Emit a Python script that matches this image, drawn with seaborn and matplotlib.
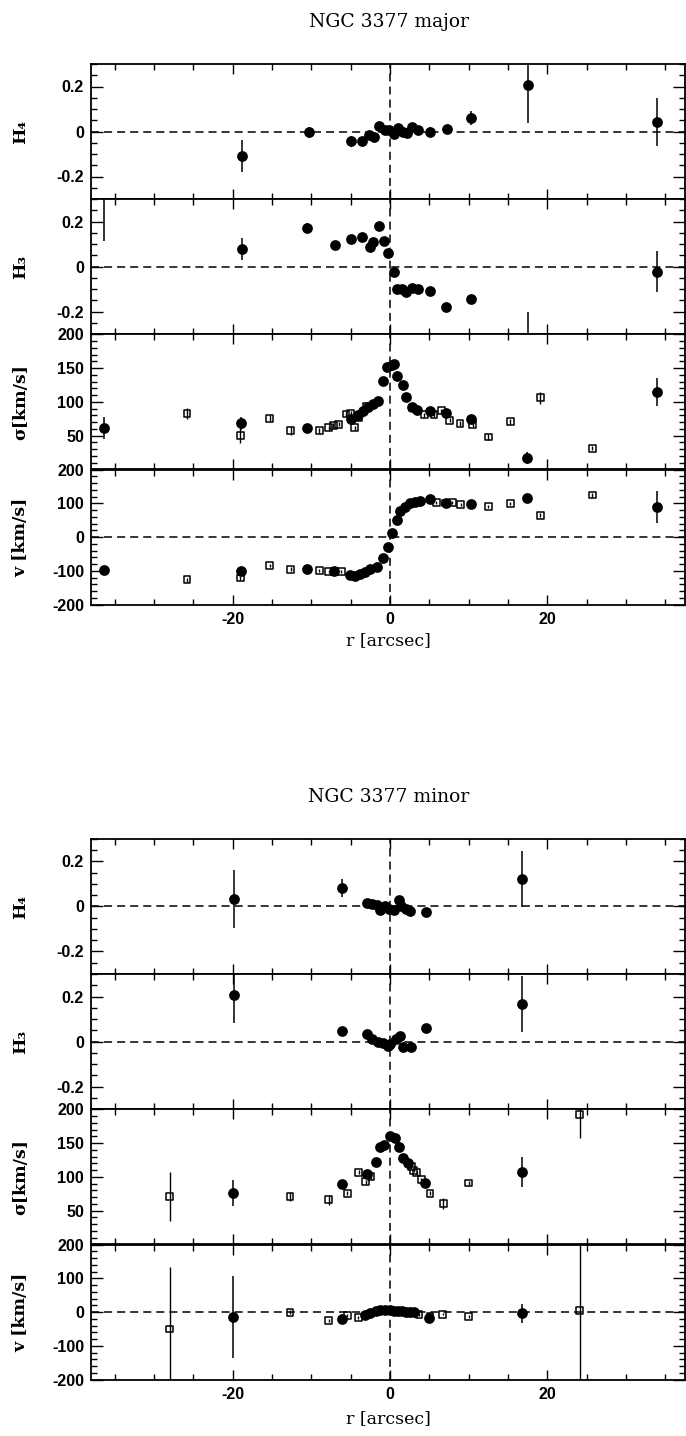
import numpy as np
import pandas as pd
import seaborn as sns
import matplotlib.pyplot as plt
from matplotlib.ticker import MultipleLocator, FuncFormatter

sns.set_style("ticks")
plt.rcParams['font.family'] = ['DejaVu Serif']
plt.rcParams['axes.unicode_minus'] = False
plt.rcParams['lines.scale_dashes'] = False
for key in ['text.color', 'axes.labelcolor', 'axes.edgecolor', 'xtick.color', 'ytick.color']:
    plt.rcParams[key] = 'black'

# ---------------- NGC 3377 major axis ----------------
maj_h4_r = [-18.8, -10.3, -4.97, -3.5, -2.7, -2.0, -1.35, -0.63, -0.13, 0.5, 1.05, 1.7, 2.2, 2.8, 3.6, 5.15, 7.2, 10.3, 17.5, 34.0]
maj_h4 = [-0.108, -0.004, -0.044, -0.044, -0.015, -0.025, 0.025, 0.008, 0.005, -0.01, 0.015, 0.0, -0.005, 0.022, 0.008, 0.0, 0.012, 0.06, 0.207, 0.044]
maj_h4_err = [0.072, 0.026, 0.025, 0.015, 0.012, 0.012, 0.012, 0.012, 0.012, 0.012, 0.012, 0.012, 0.012, 0.012, 0.015, 0.02, 0.015, 0.03, 0.17, 0.107]

maj_h3_r = [-36.4, -18.8, -10.5, -7.05, -4.97, -3.5, -2.6, -2.1, -1.43, -0.76, -0.2, 0.47, 0.85, 1.48, 2.1, 2.75, 3.6, 5.15, 7.1, 10.3, 17.5, 34.0]
maj_h3 = [0.36, 0.079, 0.173, 0.096, 0.123, 0.133, 0.089, 0.111, 0.182, 0.114, 0.059, -0.024, -0.098, -0.098, -0.114, -0.096, -0.1, -0.107, -0.18, -0.145, -0.40, -0.022]
maj_h3_err = [0.245, 0.048, 0.02, 0.012, 0.012, 0.012, 0.012, 0.012, 0.012, 0.012, 0.012, 0.012, 0.012, 0.012, 0.012, 0.012, 0.012, 0.012, 0.012, 0.015, 0.20, 0.09]

maj_sig_r = [-36.4, -18.9, -10.5, -5.0, -4.0, -3.4, -2.75, -2.1, -1.5, -0.9, -0.4, 0.2, 0.5, 0.9, 1.6, 2.1, 2.75, 3.4, 5.1, 7.1, 10.3, 17.4, 33.9]
maj_sig = [61, 68, 61, 75, 80, 87, 92, 97, 102, 131, 151, 154, 156, 139, 125, 107, 93, 88, 86, 83, 75, 17, 115]
maj_sig_err = [16, 10, 4, 4, 3, 3, 3, 3, 3, 3, 3, 3, 3, 3, 3, 3, 3, 3, 3, 3, 4, 9, 21]

maj_sig_sq_r = [-25.8, -19.0, -15.3, -12.6, -9.0, -7.8, -7.2, -6.5, -5.6, -5.0, -4.5, -4.0, -3.0, 2.9, 4.35, 5.6, 6.5, 7.6, 8.9, 10.5, 12.5, 15.3, 19.1, 25.7]
maj_sig_sq = [83, 50, 76, 58, 58, 62, 65, 67, 82, 83, 62, 77, 93, 91, 81, 81, 87, 73, 68, 66, 48, 71, 106, 31]
maj_sig_sq_err = [8, 11, 4, 7, 4, 3, 3, 3, 3, 3, 3, 3, 3, 3, 3, 3, 3, 3, 3, 3, 4, 4, 9, 3]

maj_v_r = [-36.4, -18.9, -10.5, -7.1, -5.06, -4.4, -3.8, -3.2, -2.5, -1.7, -0.9, -0.3, 0.3, 0.85, 1.27, 1.9, 2.5, 3.2, 3.8, 5.06, 7.1, 10.3, 17.4, 33.9]
maj_v = [-97, -99, -95, -101, -111, -114, -108, -102, -94, -89, -61, -30, 13, 51, 76, 90, 100, 105, 108, 112, 102, 98, 115, 89]
maj_v_err = [8, 10, 4, 4, 4, 4, 4, 4, 4, 4, 4, 4, 4, 4, 4, 4, 4, 4, 4, 4, 4, 5, 6, 47]

maj_v_sq_r = [-25.8, -19.0, -15.3, -12.6, -9.0, -7.8, -7.0, -6.2, 5.9, 7.1, 7.9, 9.0, 12.5, 15.3, 19.1, 25.7]
maj_v_sq = [-126, -121, -85, -95, -100, -103, -101, -101, 102, 101, 102, 96, 90, 100, 65, 125]
maj_v_sq_err = [6, 6, 5, 5, 4, 4, 4, 4, 4, 4, 4, 4, 5, 5, 6, 6]

# ---------------- NGC 3377 minor axis ----------------
min_h4_r = [-19.8, -6.05, -2.97, -2.3, -1.7, -1.27, -0.64, -0.13, 0.56, 1.15, 1.4, 2.0, 2.55, 4.55, 16.75]
min_h4 = [0.034, 0.08, 0.015, 0.01, 0.008, -0.015, 0.0, -0.01, -0.015, 0.027, 0.003, -0.01, -0.019, -0.025, 0.123]
min_h4_err = [0.13, 0.04, 0.02, 0.012, 0.012, 0.012, 0.012, 0.012, 0.012, 0.012, 0.012, 0.012, 0.012, 0.015, 0.124]

min_h3_r = [-19.8, -6.06, -2.9, -2.25, -1.57, -0.84, -0.3, 0.0, 0.73, 1.27, 1.7, 2.67, 4.6, 16.75]
min_h3 = [0.208, 0.048, 0.033, 0.012, 0.0, -0.007, -0.018, -0.012, 0.012, 0.027, -0.022, -0.022, 0.059, 0.168]
min_h3_err = [0.124, 0.012, 0.012, 0.012, 0.012, 0.012, 0.012, 0.012, 0.012, 0.012, 0.012, 0.012, 0.012, 0.124]

min_sig_r = [-19.9, -6.07, -2.94, -1.8, -1.27, -0.7, 0.0, 0.6, 1.1, 1.7, 2.3, 4.48, 16.8]
min_sig = [76.5, 90, 105, 122, 144, 148, 160, 157, 145, 128, 120, 91, 107]
min_sig_err = [19, 4, 3, 3, 3, 3, 3, 3, 3, 3, 3, 3, 22]

min_sig_sq_r = [-28.0, -12.7, -7.8, -5.4, -3.95, -3.1, -2.4, 2.7, 3.0, 3.4, 4.0, 5.1, 6.8, 10.0, 24.1]
min_sig_sq = [71, 71, 66, 76, 107, 93, 100, 115, 110, 106, 96, 76, 61, 91, 192]
min_sig_sq_err = [36, 6, 7, 3, 3, 3, 3, 3, 3, 3, 3, 3, 8, 3, 35]

min_v_r = [-19.9, -6.1, -3.2, -2.5, -1.8, -1.3, -0.6, 0.0, 0.5, 1.0, 1.5, 2.0, 2.5, 3.0, 4.9, 16.8]
min_v = [-15, -21, -8, -3, 2, 5, 5, 5, 4, 3, 2, 1, 1, 0, -16, -4]
min_v_err = [122, 4, 3, 3, 3, 3, 3, 3, 3, 3, 3, 3, 3, 3, 4, 28]

min_v_sq_r = [-28.0, -12.7, -7.8, -5.4, -4.0, 3.7, 5.1, 6.7, 10.0, 24.1]
min_v_sq = [-50, 0, -25, -10, -15, -8, -14, -6, -14, 5]
min_v_sq_err = [185, 5, 5, 4, 4, 4, 4, 4, 4, 220]

W, H = 686, 1436
fig = plt.figure(figsize=(W / 100, H / 100), dpi=100)

DASH = (0, (5.8, 3.6))
TICKFONT = dict(family='Liberation Sans', weight='bold', size=11.5)


def circles(ax, r, y, e):
    ax.errorbar(r, y, yerr=e, fmt='none', ecolor='black', elinewidth=1.1, capsize=0, zorder=2)
    sns.scatterplot(x=r, y=y, ax=ax, marker='o', s=60, color='black',
                    edgecolor='black', linewidth=0, zorder=3, legend=False)


def squares(ax, r, y, e):
    ax.errorbar(r, y, yerr=e, fmt='none', ecolor='black', elinewidth=1.0, capsize=0, zorder=2)
    sns.scatterplot(x=r, y=y, ax=ax, marker='s', s=24, color='black',
                    edgecolor='black', linewidth=1.1, zorder=3, legend=False)
    ax.collections[-1].set_facecolor('none')


def make_panel(top_px, left_px=91, right_px=685, h_px=135):
    rect = [left_px / W, 1 - (top_px + h_px) / H, (right_px - left_px) / W, h_px / H]
    ax = fig.add_axes(rect)
    ax.set_xlim(-38, 37.5)
    ax.xaxis.set_major_locator(MultipleLocator(20))
    ax.xaxis.set_minor_locator(MultipleLocator(5))
    ax.tick_params(which='both', direction='in', top=True, right=True, width=1.0, color='black')
    ax.tick_params(axis='x', which='major', length=7.5)
    ax.tick_params(axis='x', which='minor', length=4)
    ax.tick_params(axis='y', which='major', length=8.5, pad=5)
    ax.tick_params(axis='y', which='minor', length=4.5)
    for s in ax.spines.values():
        s.set_linewidth(1.3)
        s.set_color('black')
    ax.axvline(0, color='black', lw=1.1, ls=DASH, zorder=1)
    ax.set_facecolor('white')
    return ax


hfmt = FuncFormatter(lambda v, p: '0' if abs(v) < 1e-9 else f'{v:.1f}')
ifmt = FuncFormatter(lambda v, p: f'{int(round(v))}')


def group(top, title, data, xlab_off):
    tops = [top + i * 135.2 for i in range(4)]
    axes = [make_panel(t) for t in tops]
    (h4r, h4, h4e), (h3r, h3, h3e), (sr, s, se, sqr, sq, sqe), (vr, v, ve, vqr, vq, vqe) = data

    for ax, (r, y, e), lab in zip(axes[:2], [(h4r, h4, h4e), (h3r, h3, h3e)], ['H₄', 'H₃']):
        circles(ax, r, y, e)
        ax.set_ylim(-0.3, 0.3)
        ax.set_yticks([-0.2, 0, 0.2])
        ax.yaxis.set_minor_locator(MultipleLocator(0.05))
        ax.yaxis.set_major_formatter(hfmt)
        ax.axhline(0, color='black', lw=1.1, ls=DASH, zorder=1)
        ax.set_ylabel(lab, fontsize=12.5, fontweight='bold')

    ax = axes[2]
    squares(ax, sqr, sq, sqe)
    circles(ax, sr, s, se)
    ax.set_ylim(0, 200)
    ax.set_yticks([50, 100, 150, 200])
    ax.yaxis.set_minor_locator(MultipleLocator(10))
    ax.yaxis.set_major_formatter(ifmt)
    ax.set_ylabel('σ[km/s]', fontsize=12.5, fontweight='bold')

    ax = axes[3]
    squares(ax, vqr, vq, vqe)
    circles(ax, vr, v, ve)
    ax.set_ylim(-200, 200)
    ax.yaxis.set_major_locator(MultipleLocator(100))
    ax.yaxis.set_minor_locator(MultipleLocator(20))
    ax.yaxis.set_major_formatter(ifmt)
    ax.axhline(0, color='black', lw=1.1, ls=DASH, zorder=1)
    ax.set_ylabel('v [km/s]', fontsize=12.5, fontweight='bold')
    ax.set_xlabel('r [arcsec]', fontsize=12.5)
    ax.xaxis.set_label_coords(0.5, xlab_off)
    ax.tick_params(axis='x', labelbottom=True, pad=5)

    for a in axes:
        a.yaxis.set_label_coords(-0.104, 0.5)
        for t in a.get_yticklabels() + a.get_xticklabels():
            t.set_fontproperties(TICKFONT)
    for a in axes[:3]:
        a.tick_params(axis='x', labelbottom=False)

    fig.text(389 / W, 1 - (top - 42) / H, title, ha='center', va='center', fontsize=13.5)


group(64, 'NGC 3377 major',
      [(maj_h4_r, maj_h4, maj_h4_err), (maj_h3_r, maj_h3, maj_h3_err),
       (maj_sig_r, maj_sig, maj_sig_err, maj_sig_sq_r, maj_sig_sq, maj_sig_sq_err),
       (maj_v_r, maj_v, maj_v_err, maj_v_sq_r, maj_v_sq, maj_v_sq_err)], -0.2)

group(839, 'NGC 3377 minor',
      [(min_h4_r, min_h4, min_h4_err), (min_h3_r, min_h3, min_h3_err),
       (min_sig_r, min_sig, min_sig_err, min_sig_sq_r, min_sig_sq, min_sig_sq_err),
       (min_v_r, min_v, min_v_err, min_v_sq_r, min_v_sq, min_v_sq_err)], -0.225)

fig.savefig('out.png', dpi=100)
